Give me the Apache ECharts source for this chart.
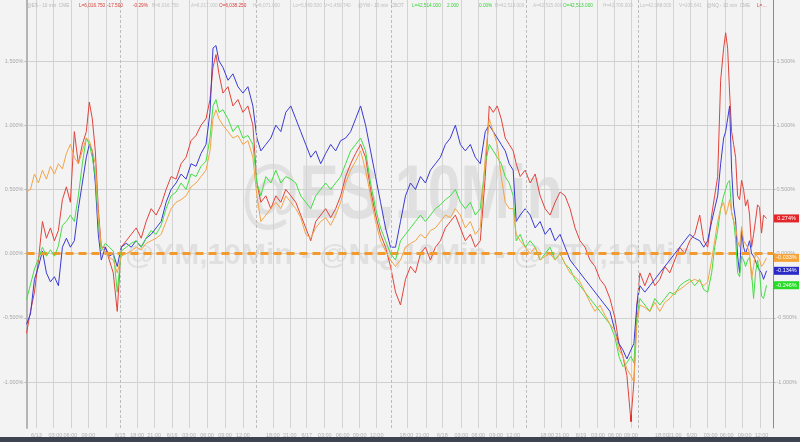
<!DOCTYPE html>
<html><head><meta charset="utf-8">
<script src="https://cdn.jsdelivr.net/npm/echarts@6/dist/echarts.min.js"></script>
<style>html,body{margin:0;padding:0;background:#f3f3f3}#c{width:800px;height:442px}</style>
</head><body><div id="c"></div>
<script>
// 10-minute bar index (time axis)
const barIndex = [
  0,4,8,12,16,20,24,28,32,36,
  40,44,48,52,56,60,63,66,69,72,
  75,79,83,87,91,95,100,105,110,115,
  120,125,130,135,140,145,150,155,160,165,
  170,175,180,184,187,190,193,197,202,207,
  212,217,222,227,231,235,240,245,250,255,
  260,265,270,275,280,285,290,295,300,305,
  310,315,320,325,330,335,340,345,350,355,
  360,365,370,375,380,385,390,395,400,405,
  410,415,420,425,430,435,440,445,450,455,
  460,464,468,472,476,480,484,488,491,495,
  500,505,510,515,520,525,530,535,540,545,
  550,555,560,565,570,575,580,585,590,594,
  598,602,606,609,612,615,620,625,630,635,
  640,645,650,655,660,665,670,675,679,683,
  687,690,693,696,699,701,703,705,707,709,
  711,713,715,717,719,721,723,725,727,729,
  731,733,735,737,739,742];

const redSeries = [
  -0.62,-0.45,-0.30,-0.05,0.25,0.12,0.20,0.10,0.18,0.42,
  0.52,0.40,0.95,0.70,0.85,0.95,1.18,1.05,0.80,0.35,
  0.05,0.05,-0.05,-0.15,-0.45,0.05,0.10,0.15,0.20,0.12,
  0.25,0.35,0.30,0.38,0.50,0.60,0.58,0.70,0.75,0.88,
  0.92,1.00,1.05,1.20,1.45,1.55,1.40,1.25,1.30,1.15,
  1.20,1.10,1.15,1.00,0.55,0.40,0.45,0.35,0.45,0.40,
  0.50,0.45,0.40,0.30,0.20,0.10,0.25,0.30,0.35,0.28,
  0.35,0.45,0.60,0.70,0.78,0.85,0.75,0.50,0.30,0.15,
  0.05,-0.10,-0.30,-0.40,-0.20,-0.10,-0.15,0.00,0.05,-0.05,
  0.05,0.10,0.20,0.25,0.30,0.20,0.10,0.15,0.05,0.10,
  0.60,1.15,1.10,1.15,1.05,0.90,0.85,0.80,0.70,0.60,
  0.65,0.55,0.62,0.45,0.35,0.30,0.40,0.48,0.45,0.35,
  0.20,0.10,0.05,-0.05,-0.10,-0.20,-0.25,-0.35,-0.50,-0.70,
  -0.80,-0.95,-1.30,-1.00,-0.40,-0.15,-0.25,-0.15,-0.25,-0.20,
  -0.10,-0.15,-0.05,0.05,0.00,0.10,0.15,0.30,0.10,0.05,
  0.30,0.45,0.60,1.35,1.60,1.72,1.60,1.25,0.95,0.85,
  0.75,0.45,0.42,0.57,0.50,0.37,0.42,0.30,0.05,0.15,
  0.26,0.38,0.36,0.16,0.30,0.274];

const blueSeries = [
  -0.55,-0.47,-0.20,-0.10,0.02,-0.15,-0.22,-0.18,-0.25,0.05,
  0.12,0.05,0.10,0.35,0.55,0.75,0.85,0.80,0.55,0.15,
  -0.05,0.05,-0.02,0.00,-0.10,0.05,0.08,0.05,0.10,0.05,
  0.12,0.15,0.20,0.25,0.40,0.50,0.55,0.62,0.58,0.70,
  0.68,0.78,0.85,1.10,1.60,1.62,1.50,1.45,1.35,1.40,
  1.30,1.25,1.30,1.15,0.90,0.80,0.85,0.90,1.00,0.95,
  1.10,1.15,1.05,0.95,0.85,0.75,0.80,0.70,0.78,0.85,
  0.80,0.88,0.90,0.95,1.05,1.15,1.00,0.80,0.60,0.40,
  0.20,0.05,0.05,0.25,0.45,0.55,0.50,0.60,0.55,0.65,
  0.70,0.75,0.85,0.90,1.00,0.85,0.80,0.85,0.75,0.70,
  0.95,1.00,0.95,0.90,0.85,0.80,0.70,0.65,0.25,0.30,
  0.35,0.30,0.20,0.25,0.15,0.20,0.10,0.15,0.05,-0.05,
  -0.10,-0.15,-0.20,-0.25,-0.30,-0.35,-0.40,-0.45,-0.60,-0.70,
  -0.75,-0.82,-0.75,-0.70,-0.40,-0.25,-0.30,-0.25,-0.20,-0.15,
  -0.10,-0.05,0.00,0.05,0.10,0.15,0.12,0.10,0.05,0.10,
  0.25,0.35,0.45,0.70,0.90,0.95,1.05,1.15,0.65,0.37,
  0.26,-0.02,-0.15,0.18,0.05,0.00,0.05,0.10,0.00,-0.02,
  -0.03,-0.10,-0.13,-0.15,-0.20,-0.134];

const greenSeries = [
  -0.36,-0.24,-0.12,-0.04,0.05,-0.02,0.03,-0.02,0.06,0.22,
  0.25,0.30,0.25,0.45,0.70,0.90,0.85,0.75,0.60,0.25,
  0.02,0.08,0.05,0.02,-0.30,0.02,0.05,0.08,0.10,0.05,
  0.12,0.18,0.15,0.22,0.35,0.45,0.48,0.55,0.50,0.62,
  0.60,0.68,0.72,0.90,1.15,1.20,1.10,1.12,1.05,0.95,
  1.00,0.90,0.92,0.85,0.55,0.45,0.60,0.55,0.65,0.55,
  0.60,0.58,0.55,0.45,0.40,0.35,0.45,0.50,0.55,0.50,
  0.55,0.60,0.70,0.80,0.85,0.90,0.80,0.55,0.35,0.20,
  0.10,0.00,-0.05,0.10,0.15,0.20,0.25,0.30,0.25,0.30,
  0.35,0.38,0.42,0.45,0.50,0.40,0.35,0.40,0.30,0.35,
  0.70,0.85,0.80,0.75,0.70,0.60,0.55,0.45,0.10,0.15,
  0.05,0.10,0.05,-0.05,0.00,0.05,-0.05,0.00,-0.08,-0.12,
  -0.20,-0.25,-0.30,-0.35,-0.40,-0.45,-0.50,-0.55,-0.65,-0.80,
  -0.88,-0.85,-0.80,-0.85,-0.50,-0.35,-0.40,-0.45,-0.35,-0.40,
  -0.35,-0.30,-0.32,-0.25,-0.22,-0.20,-0.25,-0.20,-0.28,-0.30,
  -0.15,0.05,0.18,0.35,0.45,0.50,0.55,0.57,0.32,0.26,
  0.11,-0.15,-0.18,-0.02,-0.05,-0.10,-0.05,-0.03,-0.15,-0.35,
  -0.15,-0.05,-0.15,-0.33,-0.35,-0.246];

const orangeSeries = [
  0.48,0.50,0.62,0.55,0.65,0.58,0.68,0.62,0.70,0.66,
  0.78,0.85,0.75,0.70,0.80,0.90,0.88,0.80,0.70,0.30,
  0.05,0.02,-0.03,-0.05,-0.15,-0.02,0.00,0.02,0.05,0.03,
  0.08,0.10,0.12,0.15,0.25,0.35,0.40,0.42,0.45,0.52,
  0.55,0.60,0.65,0.80,1.05,1.12,1.05,1.00,0.95,0.90,
  0.92,0.85,0.88,0.75,0.45,0.25,0.30,0.35,0.40,0.35,
  0.45,0.40,0.35,0.28,0.15,0.12,0.20,0.25,0.28,0.22,
  0.30,0.40,0.55,0.65,0.72,0.80,0.65,0.45,0.25,0.10,
  0.02,-0.05,-0.10,-0.05,0.05,0.08,0.10,0.15,0.12,0.18,
  0.20,0.25,0.30,0.28,0.35,0.30,0.20,0.25,0.15,0.20,
  0.75,1.05,0.95,0.85,0.60,0.40,0.35,0.35,0.15,0.10,
  0.05,0.00,0.05,-0.05,-0.02,0.00,-0.05,0.00,-0.08,-0.15,
  -0.18,-0.22,-0.30,-0.38,-0.45,-0.40,-0.48,-0.55,-0.60,-0.75,
  -0.80,-0.90,-0.95,-1.00,-0.55,-0.40,-0.42,-0.45,-0.38,-0.45,
  -0.38,-0.35,-0.30,-0.28,-0.25,-0.22,-0.20,-0.22,-0.25,-0.22,
  -0.05,0.10,0.25,0.35,0.40,0.30,0.35,0.42,0.32,0.25,
  0.21,0.10,0.05,0.21,0.10,0.11,0.05,0.00,-0.20,-0.10,
  0.00,0.00,-0.05,-0.10,-0.08,-0.033];

// x-axis tick labels (bar index, text)
const xTickPos = [10,29,44,62,94,111,128,146,163,181,199,217,247,264,281,299,317,334,351,381,397,417,436,453,471,488,522,537,556,573,590,606,637,650,667,686,702,720,737];
const xTickLabels = ['6/13','03:00','06:00','09:00','6/15','18:00','21:00','6/16','03:00','06:00','09:00','12:00','18:00','21:00','6/17','03:00','06:00','09:00','12:00','18:00','21:00','6/18','03:00','06:00','09:00','12:00','18:00','21:00','6/19','03:00','06:00','09:00','18:00','21:00','6/20','03:00','06:00','09:00','12:00'];
const xGridPos = [10,27,45,62,80,111,128,146,163,181,199,217,247,264,281,299,317,334,351,382,401,417,436,453,471,488,519,536,554,572,589,606,631,648,666,683,701,718,736];
const sessionBreaks = [94,230,366,501,613];
const yTicks = [-1,-0.5,0,0.5,1,1.5];
const eventMark = 606;

const X_MIN = 0, X_MAX = 749, Y_MIN = -1.358, Y_MAX = 1.975;

const seriesDefs = [
  {name:'@RTY', data:redSeries, color:'#e2433b', tag:'#e3262a'},
  {name:'@NQ', data:blueSeries, color:'#3b3bd3', tag:'#2b2bc8'},
  {name:'@ES', data:greenSeries, color:'#44de44', tag:'#27dc27'},
  {name:'@YM', data:orangeSeries, color:'#f3a446', tag:'#f5a236'}
];

const labelMap = {};
xTickPos.forEach((p,i)=>{ labelMap[p] = xTickLabels[i]; });

const chart = echarts.init(document.getElementById('c'), null, {renderer:'canvas'});

const series = [{
  name:'breaks', type:'line', data:[[0,0]], showSymbol:false, lineStyle:{opacity:0}, z:1, silent:true, clip:false,
  markLine:{symbol:['none','none'], silent:true, animation:false, label:{show:false},
    data: sessionBreaks.map(v=>({xAxis:v, lineStyle:{color:'#bdbdbd', width:1, type:[3,2]}}))}
}];

seriesDefs.forEach((s, k)=>{
  const last = s.data[s.data.length-1];
  const obj = {
    name:s.name, type:'line', showSymbol:false, symbol:'none', clip:false,
    z: 3 + k,
    lineStyle:{color:s.color, width:1},
    itemStyle:{color:s.color},
    data: barIndex.map((x,i)=>[x, s.data[i]]),
    markPoint:{
      symbol:'rect', symbolSize:[25,8], symbolOffset:[13,0], silent:true, animation:false,
      itemStyle:{color:s.tag},
      label:{show:true, position:'inside', color:'#fff', fontSize:5.5, fontFamily:'Liberation Sans',
        formatter:()=> last.toFixed(3)+'%'},
      data:[{coord:[X_MAX, last]}]
    }
  };
  if (k === 3) {
    obj.markLine = {symbol:['none','none'], silent:true, animation:false, label:{show:false},
      data:[{yAxis:0, lineStyle:{color:'#f29a2c', width:3, type:[8,5]}}]};
  }
  if (k === 0) {
    obj.markLine = {symbol:['none','none'], silent:true, animation:false, label:{show:false},
      data:[[{coord:[eventMark,-1.255], lineStyle:{color:'#e0302c', width:2, type:'solid'}},{coord:[eventMark,-1.31]}]]};
  }
  series.push(obj);
});

const headerItems = [
  [27,'@ES - 10 min  CME','#b8b8b8'],[79,'L=6,016.750','#d8403a'],[107,'-17.500','#d8403a'],[133,'-0.29%','#d8403a'],
  [152,'B=6,016.750','#c2c2c2'],[191,'A=6,017.000','#c2c2c2'],[219,'O=6,038.250','#d8403a'],[253,'H=6,071.000','#c2c2c2'],
  [293,'Lo=5,969.500','#c2c2c2'],[324,'V=1,459,740','#c2c2c2'],[358,'@YM - 10 min  CBOT','#b8b8b8'],
  [412,'L=42,514.000','#3ccf3c'],[447,'2.000','#3ccf3c'],[479,'0.00%','#3ccf3c'],[495,'B=42,513.000','#c2c2c2'],
  [533,'A=42,515.000','#c2c2c2'],[563,'O=42,513.000','#3ccf3c'],[603,'H=42,700.000','#c2c2c2'],[640,'Lo=42,088.000','#c2c2c2'],
  [679,'V=105,641','#c2c2c2'],[707,'@NQ - 10 min  CME','#b8b8b8'],[757,'L=…','#d8403a']
];

const graphics = [
  {type:'text', x:402, y:197, scaleX:0.78, z:0, silent:true,
    style:{text:'@ES,10Min', fontSize:76, fontWeight:'bold', fontFamily:'Liberation Sans', fill:'rgba(0,0,0,0.075)', align:'center', verticalAlign:'middle'}},
  {type:'text', x:125, y:256, z:0, silent:true,
    style:{text:'@YM,10Min - @NQ,10Min - @RTY,10Min', fontSize:30, fontWeight:'bold', fontFamily:'Liberation Sans', fill:'rgba(0,0,0,0.075)', align:'left', verticalAlign:'middle'}},
  {type:'rect', shape:{x:0, y:437, width:800, height:5}, style:{fill:'#3d4350'}, z:10, silent:true},
  ...headerItems.map(h=>({type:'text', x:h[0], y:6, z:10, silent:true,
    style:{text:h[1], fill:h[2], fontSize:4.7, fontFamily:'Liberation Sans', verticalAlign:'middle'}}))
];

const yAxisCommon = {
  type:'value', min:Y_MIN, max:Y_MAX,
  axisLabel:{customValues:yTicks, formatter:v=>v.toFixed(3)+'%', fontSize:5.5, color:'#a8a8a8', fontFamily:'Liberation Sans', margin:3},
  axisTick:{show:true, customValues:yTicks, length:2, lineStyle:{color:'#b0b0b0'}}
};

chart.setOption({
  animation:false,
  backgroundColor:'#f3f3f3',
  grid:{left:26, right:25, top:0, bottom:14, containLabel:false},
  xAxis:{
    type:'value', min:X_MIN, max:X_MAX,
    splitLine:{show:true, lineStyle:{color:'#d3d3d3', width:1}},
    axisLine:{show:true, lineStyle:{color:'#d0d0d0', width:1}},
    axisTick:{show:false, customValues:xGridPos},
    axisLabel:{customValues:xTickPos, formatter:v=>labelMap[v] || '', fontSize:5.5, color:'#b0b0b0', fontFamily:'Liberation Sans', margin:4}
  },
  yAxis:[
    Object.assign({}, yAxisCommon, {position:'left', splitLine:{show:true, lineStyle:{color:'#d0d0d0', width:1}},
      axisLine:{show:true, lineStyle:{color:'#b4b4b4', width:2}}}),
    Object.assign({}, yAxisCommon, {position:'right', splitLine:{show:false},
      axisLine:{show:true, lineStyle:{color:'#8c8c8c', width:1}}})
  ],
  graphic:graphics,
  series:series
});
</script>
</body></html>
